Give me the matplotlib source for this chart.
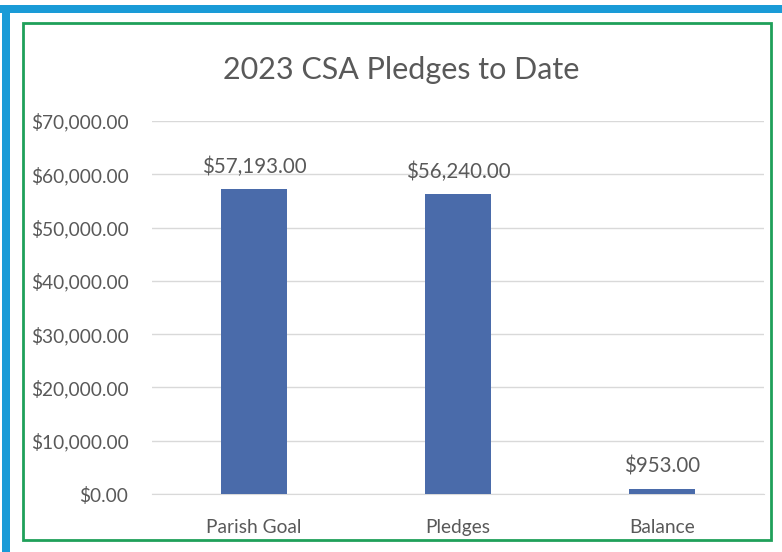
import matplotlib
matplotlib.use("Agg")
import matplotlib.pyplot as plt
from matplotlib.patches import Rectangle
from matplotlib.ticker import FuncFormatter

plt.rcParams["font.family"] = ["Lato", "DejaVu Sans"]

categories = ["Parish Goal", "Pledges", "Balance"]
values = [57193.00, 56240.00, 953.00]
y_ticks = [0, 10000, 20000, 30000, 40000, 50000, 60000, 70000]

BAR_COLOR = "#4A6BAA"
TEXT_COLOR = "#595959"

fig = plt.figure(figsize=(7.82, 5.52), dpi=100)
W, H = 782, 552


def px(x, y, w, h):
    # pixels (origine en haut a gauche) -> coordonnees figure
    return (x / W, 1 - (y + h) / H), w / W, h / H


# cadres autour du graphique
for (x, y, w, h), col in [((0, 5, 782, 8), "#1A9BD7"), ((2, 5, 8, 547), "#1A9BD7")]:
    xy, ww, hh = px(x, y, w, h)
    fig.patches.append(Rectangle(xy, ww, hh, transform=fig.transFigure,
                                 facecolor=col, edgecolor="none"))
xy, ww, hh = px(23, 23, 748, 517)
fig.patches.append(Rectangle(xy, ww, hh, transform=fig.transFigure,
                             facecolor="none", edgecolor="#1FA05A", linewidth=2))

ax = fig.add_axes([152 / W, 1 - 494 / H, 612 / W, 373 / H])
pos = list(range(len(categories)))
ax.bar(pos, values, width=0.32, color=BAR_COLOR, zorder=3)
for p, v in zip(pos, values):
    ax.annotate(f"${v:,.2f}", xy=(p, v), xytext=(0, 9), textcoords="offset points",
                ha="center", va="bottom", fontsize=14.8, color=TEXT_COLOR)

ax.set_xlim(-0.5, 2.5)
ax.set_ylim(0, 70000)
ax.set_yticks(y_ticks)
ax.yaxis.set_major_formatter(FuncFormatter(lambda v, _: f"${v:,.2f}"))
ax.set_xticks(pos)
ax.set_xticklabels(categories)
ax.grid(axis="y", color="#D9D9D9", linewidth=1, zorder=0)
for s in ["top", "right", "left"]:
    ax.spines[s].set_visible(False)
ax.spines["bottom"].set_color("#D9D9D9")
ax.tick_params(axis="both", length=0, labelsize=13.8, labelcolor=TEXT_COLOR)
ax.tick_params(axis="y", pad=17)
ax.tick_params(axis="x", pad=18)

fig.text(401 / W, 1 - 70 / H, "2023 CSA Pledges to Date", ha="center", va="center",
         fontsize=22, color=TEXT_COLOR)

fig.savefig("out.png", dpi=100)
